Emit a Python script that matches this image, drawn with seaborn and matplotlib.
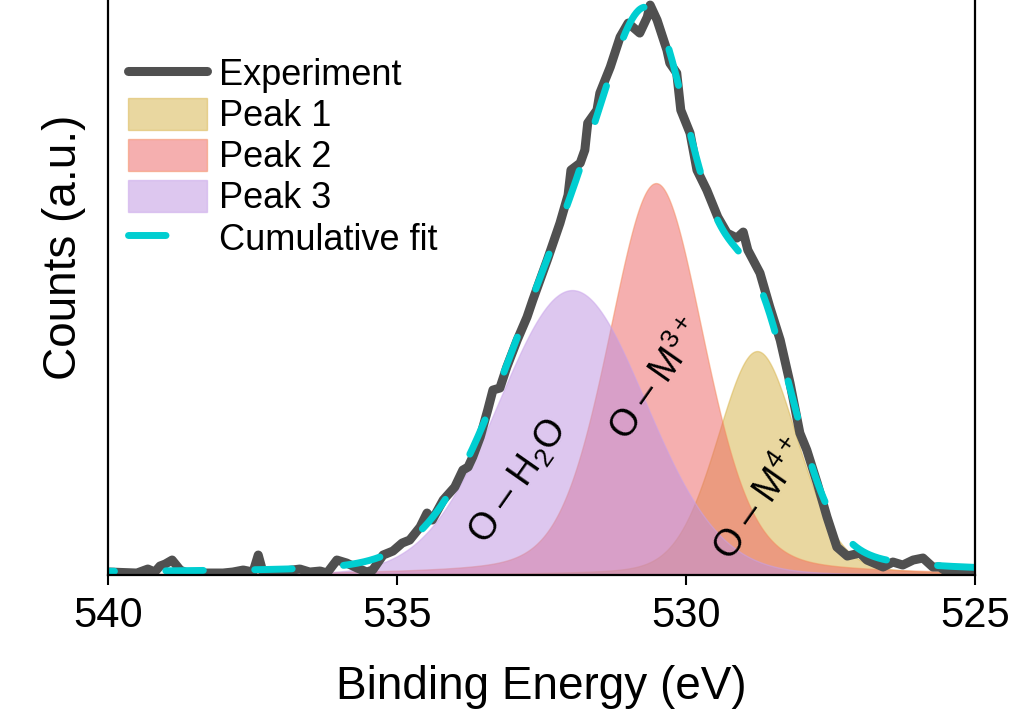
import numpy as np
import pandas as pd
import matplotlib
matplotlib.use("Agg")
import matplotlib.pyplot as plt
from matplotlib.patches import Patch
from matplotlib.lines import Line2D
import seaborn as sns

# Style
sns.set_style("ticks")
plt.rcParams['font.family'] = ['Liberation Sans', 'DejaVu Sans']
plt.rcParams['mathtext.fontset'] = 'custom'
plt.rcParams['mathtext.rm'] = 'Liberation Sans'
plt.rcParams['mathtext.it'] = 'Liberation Sans:italic'
plt.rcParams['mathtext.bf'] = 'Liberation Sans:bold'
plt.rcParams['text.color'] = 'black'
plt.rcParams['axes.labelcolor'] = 'black'
plt.rcParams['xtick.color'] = 'black'
plt.rcParams['ytick.color'] = 'black'

# Experimental O 1s spectrum (binding energy in eV, counts in a.u.)
energy = [539.97, 539.50, 539.31, 539.19, 539.10, 539.01, 538.89, 538.75, 538.63, 538.01,
          537.84, 537.66, 537.49, 537.40, 537.32, 537.20, 536.68, 536.51, 536.33, 536.21,
          536.04, 535.87, 535.69, 535.52, 535.42, 535.24, 535.07, 534.91, 534.78, 534.60,
          534.48, 534.39, 534.20, 534.00, 533.86, 533.77, 533.69, 533.56, 533.43, 533.34,
          533.22, 533.10, 532.92, 532.75, 532.65, 532.40, 532.18, 532.04, 531.99, 531.83,
          531.75, 531.70, 531.54, 531.49, 531.31, 531.14, 531.00, 530.80, 530.67, 530.62,
          530.50, 530.33, 530.28, 530.16, 530.09, 529.93, 529.81, 529.64, 529.45, 529.29,
          529.12, 529.01, 528.93, 528.72, 528.55, 528.37, 528.20, 528.03, 527.91, 527.73,
          527.56, 527.39, 527.21, 526.99, 526.87, 526.59, 526.42, 526.25, 526.07, 525.90,
          525.73, 525.61, 525.48, 525.03]
counts = [3, 2, 6, 3, 9, 11, 15, 5, 2, 2,
          3, 5, 3, 20, 3, 2, 6, 3, 4, 2,
          15, 12, 7, 3, 5, 20, 24, 32, 35, 48,
          62, 55, 75, 88, 105, 108, 118, 138, 165, 185,
          187, 208, 235, 258, 275, 315, 352, 380, 405, 412,
          425, 452, 465, 482, 508, 538, 552, 542, 558, 570,
          555, 525, 512, 502, 465, 442, 405, 385, 358, 342,
          337, 343, 325, 302, 268, 235, 192, 142, 125, 92,
          58, 28, 19, 22, 15, 8, 13, 10, 15, 17,
          8, 8, 3, 3]

# Fitted components (pseudo-Voigt): Peak 1, Peak 2, Peak 3
peak_names = ["Peak 1", "Peak 2", "Peak 3"]
peak_centers = [528.77, 530.52, 531.97]
peak_heights = [224, 392, 285]
peak_fwhm = [1.65, 1.95, 3.0]
peak_eta = [0.2, 0.25, 0.05]
baseline = 2
peak_faces = ["#D4B043", "#ED6161", "#BD91E1"]
peak_edges = ["#D9B44A", "#F58A5A", "#C8A2EA"]
peak_labels = ["O – M$^{4+}$", "O – M$^{3+}$", "O – H$_2$O"]
label_pos = [(528.69, 75), (530.48, 195), (532.89, 93)]


def pseudo_voigt(x, c, h, fwhm, eta):
    sigma = fwhm / 2.3548
    g = np.exp(-(x - c) ** 2 / (2 * sigma ** 2))
    lor = 1.0 / (1.0 + ((x - c) / (fwhm / 2)) ** 2)
    return h * ((1 - eta) * g + eta * lor)


grid = np.linspace(525, 540, 800)
components = [pseudo_voigt(grid, c, h, w, e)
              for c, h, w, e in zip(peak_centers, peak_heights, peak_fwhm, peak_eta)]
fit_total = baseline + np.sum(components, axis=0)

exp_df = pd.DataFrame({"energy": energy, "counts": counts})
fit_df = pd.DataFrame({"energy": grid, "counts": fit_total})

fit_dash = (0, (5.4, 7.4))

# Plotting (axes runs past the top edge, as in the cropped original)
fig = plt.figure(figsize=(10.09, 7.13), dpi=100)
ax = fig.add_axes([0.107, 0.1935, 0.8593, 0.92])

for comp, face, edge in zip(components, peak_faces, peak_edges):
    ax.fill_between(grid, 0, comp, facecolor=face, alpha=0.5, edgecolor=edge, linewidth=1.0)

sns.lineplot(data=exp_df, x="energy", y="counts", ax=ax, color="#505050",
             linewidth=6.5, estimator=None, solid_joinstyle="round")
sns.lineplot(data=fit_df, x="energy", y="counts", ax=ax, color="#00CED1",
             linewidth=5.0, estimator=None, linestyle=fit_dash,
             dash_capstyle="round")

for text, (xx, yy) in zip(peak_labels, label_pos):
    ax.text(xx, yy, text, rotation=55, rotation_mode="anchor", ha="center", va="center",
            fontsize=27, color="black")

ax.set_xlim(540, 525)
ax.set_ylim(0, 656)
ax.set_xticks([540, 535, 530, 525])
ax.set_yticks([])
ax.tick_params(axis="x", direction="out", length=7, width=1.5, labelsize=30, pad=8)
for sp in ax.spines.values():
    sp.set_linewidth(1.6)
    sp.set_color("black")
ax.set_xlabel("Binding Energy (eV)", fontsize=33, labelpad=21)
ax.set_ylabel("Counts (a.u.)", fontsize=33, labelpad=16)

handles = [Line2D([0], [0], color="#505050", linewidth=6.5)]
for face, edge in zip(peak_faces, peak_edges):
    handles.append(Patch(facecolor=face, alpha=0.5, edgecolor=edge, linewidth=1.0))
handles.append(Line2D([0], [0], color="#00CED1", linewidth=5.0, linestyle=fit_dash,
                      dash_capstyle="round"))
labels = ["Experiment"] + peak_names + ["Cumulative fit"]
ax.legend(handles, labels, loc="upper left", bbox_to_anchor=(0.023, 0.79),
          frameon=False, fontsize=26, borderpad=0, borderaxespad=0,
          labelspacing=0.125, handleheight=1.0, handlelength=2.2, handletextpad=0.33)

fig.savefig("out.png", dpi=100)
plt.close(fig)
